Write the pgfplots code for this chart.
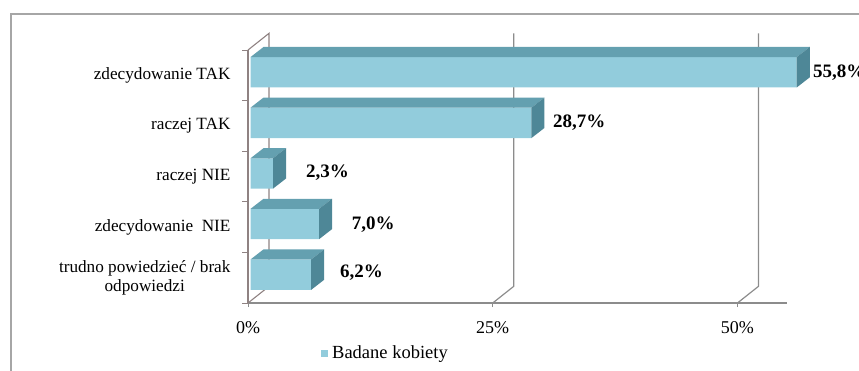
\documentclass[border=0pt]{standalone}
\usepackage{pgfplots}
\pgfplotsset{compat=1.18}
\usepackage{fontspec}
\setmainfont{Liberation Serif}
\definecolor{barfront}{HTML}{92CCDC}
\definecolor{bartop}{HTML}{64A0B0}
\definecolor{barside}{HTML}{4E8797}
\definecolor{gridc}{HTML}{8C8C8C}
\definecolor{wallc}{HTML}{8F8282}
\begin{document}
\begin{tikzpicture}[x=1pt,y=1pt]
\useasboundingbox (0,0) rectangle (859,370);
\draw[gray!70, line width=1.5pt] (11,-5) -- (11,356) -- (870,356);
\begin{axis}[
  at={(248pt,67pt)}, anchor=south west,
  scale only axis, width=539pt, height=253pt,
  xmin=0, xmax=55.06, ymin=-0.5, ymax=4.5,
  clip=false,
  axis x line*=bottom, axis y line*=left,
  x axis line style={gridc, line width=1.2pt, -},
  y axis line style={wallc, line width=1.1pt, -},
  xtick={0,25,50}, xticklabels={0\%,25\%,50\%},
  ytick={0,1,2,3,4},
  yticklabels={{trudno powiedzieć / brak\\odpowiedzi},{zdecydowanie\ \ NIE},{raczej NIE},{raczej TAK},{zdecydowanie TAK}},
  ytick style={draw=none},
  xtick style={gridc, line width=1pt},
  tick align=outside, major tick length=4pt,
  xticklabel style={font=\fontsize{18}{20}\selectfont, yshift=-11pt},
  yticklabel style={font=\fontsize{17.2}{19}\selectfont, align=center, xshift=-10pt},
  legend style={at={(axis description cs:0.1354,-0.198)}, anchor=west, draw=none, fill=none,
    font=\fontsize{18.5}{20}\selectfont, inner sep=0pt},
  legend image code/.code={\fill[barfront] (-5pt,-3.5pt) rectangle (2pt,3.5pt);},
  legend cell align=left,
  legend style={nodes={inner sep=4pt}},
]
% back walls and gridlines
\draw[gridc, line width=1.2pt] (axis cs:25,-0.5) -- (axis cs:27.15,-0.17) -- (axis cs:27.15,4.83);
\draw[gridc, line width=1.2pt] (axis cs:50,-0.5) -- (axis cs:52.15,-0.17) -- (axis cs:52.15,4.83);
\draw[wallc, line width=1.1pt] (axis cs:0,-0.5) -- (axis cs:2.15,-0.17) -- (axis cs:2.15,4.83) -- (axis cs:0,4.5);
\pgfplotsinvokeforeach{-0.5,0.5,1.5,2.5,3.5,4.5}{\draw[wallc, line width=1pt] (axis cs:0,#1) -- ++(-6pt,0pt);}
% front faces
\addplot[xbar, bar width=0.6, bar shift=0.06, fill=barfront, draw=none, xshift=2.5pt]
  coordinates {(6.2,0) (7.0,1) (2.3,2) (28.7,3) (55.8,4)};
\addlegendentry{Badane kobiety}
% top faces
\addplot[fill=bartop, draw=none, forget plot, xshift=2.5pt] coordinates {(0,4.36) (55.8,4.36) (57.13,4.56) (1.33,4.56)} -- cycle;
\addplot[fill=bartop, draw=none, forget plot, xshift=2.5pt] coordinates {(0,3.36) (28.7,3.36) (30.03,3.56) (1.33,3.56)} -- cycle;
\addplot[fill=bartop, draw=none, forget plot, xshift=2.5pt] coordinates {(0,2.36) (2.3,2.36) (3.63,2.56) (1.33,2.56)} -- cycle;
\addplot[fill=bartop, draw=none, forget plot, xshift=2.5pt] coordinates {(0,1.36) (7.0,1.36) (8.33,1.56) (1.33,1.56)} -- cycle;
\addplot[fill=bartop, draw=none, forget plot, xshift=2.5pt] coordinates {(0,0.36) (6.2,0.36) (7.53,0.56) (1.33,0.56)} -- cycle;
% side faces
\addplot[fill=barside, draw=none, forget plot, xshift=2.5pt] coordinates {(55.8,3.76) (57.13,3.96) (57.13,4.56) (55.8,4.36)} -- cycle;
\addplot[fill=barside, draw=none, forget plot, xshift=2.5pt] coordinates {(28.7,2.76) (30.03,2.96) (30.03,3.56) (28.7,3.36)} -- cycle;
\addplot[fill=barside, draw=none, forget plot, xshift=2.5pt] coordinates {(2.3,1.76) (3.63,1.96) (3.63,2.56) (2.3,2.36)} -- cycle;
\addplot[fill=barside, draw=none, forget plot, xshift=2.5pt] coordinates {(7.0,0.76) (8.33,0.96) (8.33,1.56) (7.0,1.36)} -- cycle;
\addplot[fill=barside, draw=none, forget plot, xshift=2.5pt] coordinates {(6.2,-0.24) (7.53,-0.04) (7.53,0.56) (6.2,0.36)} -- cycle;
% value labels
\begin{scope}[every node/.style={anchor=west, inner sep=0pt, font=\bfseries\fontsize{19}{21}\selectfont}]
\node at (axis cs:57.7,4.05) {55,8\%};
\node at (axis cs:31.15,3.06) {28,7\%};
\node at (axis cs:5.92,2.07) {2,3\%};
\node at (axis cs:10.6,1.04) {7,0\%};
\node at (axis cs:9.4,0.09) {6,2\%};
\end{scope}
\end{axis}
\end{tikzpicture}
\end{document}
